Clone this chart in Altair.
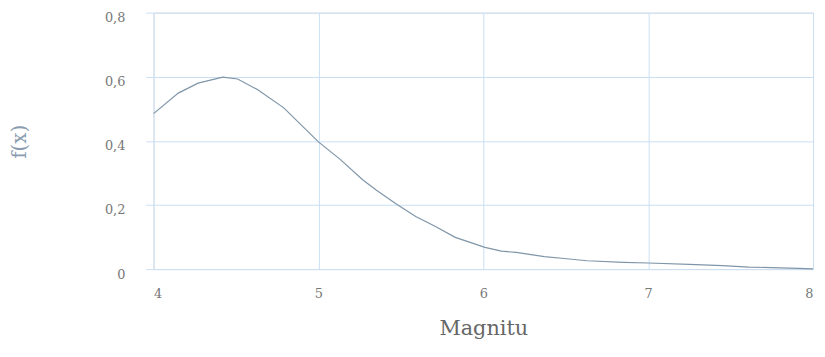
import altair as alt
import pandas as pd

mag = [4.0, 4.15, 4.27, 4.42, 4.51, 4.63, 4.79, 5.0, 5.13, 5.27, 5.35, 5.47, 5.59,
       5.71, 5.83, 6.01, 6.11, 6.2, 6.28, 6.37, 6.49, 6.63, 6.85, 7.0, 7.25, 7.45,
       7.61, 7.8, 7.91, 8.0]
fx = [0.485, 0.549, 0.58, 0.599, 0.593, 0.56, 0.503, 0.397, 0.343, 0.278, 0.247,
      0.204, 0.164, 0.133, 0.099, 0.068, 0.056, 0.052, 0.046, 0.039, 0.033, 0.026,
      0.021, 0.019, 0.015, 0.011, 0.006, 0.004, 0.002, 0.001]

df = pd.DataFrame({"x": mag, "y": fx})

font = "DejaVu Serif"
grid_col = "#cadff3"

chart = alt.Chart(df).mark_line(color="#7f95a8", strokeWidth=1.2).encode(
    x=alt.X("x:Q", scale=alt.Scale(domain=[4, 8], nice=False),
            axis=alt.Axis(title="Magnitu", values=[4, 5, 6, 7, 8], format="d",
                          grid=True, gridColor=grid_col, ticks=False, domain=False,
                          labelPadding=19, labelFont=font, labelFontSize=13,
                          labelColor="#777777", titleFont=font, titleFontSize=21,
                          titleFontWeight="normal", titleColor="#666666",
                          titleX=333, titleY=60, titleAlign="center",
                          titleBaseline="middle")),
    y=alt.Y("y:Q", scale=alt.Scale(domain=[0, 0.8], nice=False),
            axis=alt.Axis(title="f(x)", values=[0, 0.2, 0.4, 0.6, 0.8],
                          labelExpr="replace(format(datum.value, '.1~f'), '.', ',')",
                          grid=True, gridColor=grid_col, ticks=True, tickSize=8,
                          tickColor=grid_col, domain=False, labelPadding=21,
                          labelOffset=5, labelFont=font, labelFontSize=13,
                          labelColor="#777777",
                          titleFont=font, titleFontSize=20, titleFontWeight="normal",
                          titleColor="#8a9db0", titleAngle=270, titleX=-135,
                          titleY=130, titleAlign="center", titleBaseline="middle")),
).properties(
    width=666, height=259,
    autosize=alt.AutoSizeParams(type="none"),
    padding={"left": 147, "top": 3, "right": 4, "bottom": 80},
).configure_view(stroke=None).configure(background="white")

chart.save("out.html", embed_options={"renderer": "svg", "actions": False})
